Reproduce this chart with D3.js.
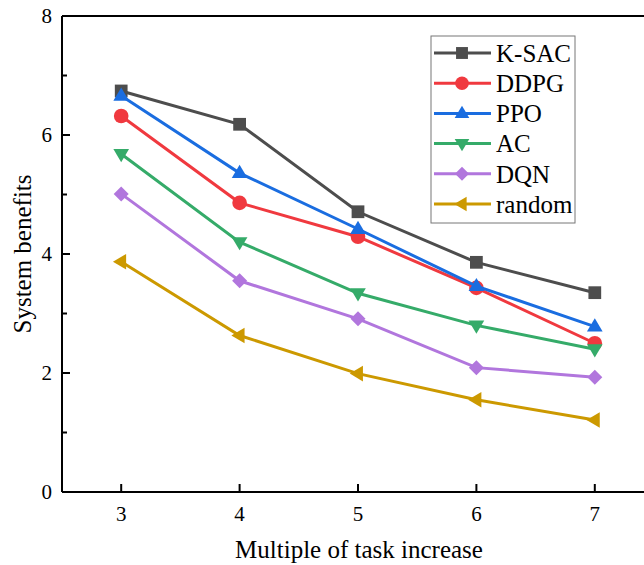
<!DOCTYPE html>
<html>
<head>
<meta charset="utf-8">
<script src="https://cdn.jsdelivr.net/npm/d3@7"></script>
<style>
  body { margin: 0; background: #fff; }
</style>
</head>
<body>
<div id="chart"></div>
<script>
// Data
const tasks = [3, 4, 5, 6, 7];
const seriesNames = ["K-SAC", "DDPG", "PPO", "AC", "DQN", "random"];
const ksac   = [6.74, 6.18, 4.71, 3.86, 3.35];
const ddpg   = [6.32, 4.86, 4.29, 3.43, 2.50];
const ppo    = [6.66, 5.36, 4.42, 3.46, 2.78];
const ac     = [5.68, 4.20, 3.34, 2.80, 2.40];
const dqn    = [5.01, 3.55, 2.91, 2.09, 1.93];
const random = [3.87, 2.63, 1.99, 1.55, 1.21];
const yTicks = [0, 2, 4, 6, 8];
const yMinor = [1, 3, 5, 7];

const colors = ["#4d4d4d", "#f0393f", "#1a6de0", "#35ab69", "#b176dd", "#cc9900"];
const symbols = ["square", "circle", "tri-up", "tri-down", "diamond", "tri-left"];
const allValues = [ksac, ddpg, ppo, ac, dqn, random];

const W = 644, H = 565;
const margin = { top: 16, right: -10, bottom: 73, left: 62 },
      width = W - margin.left - margin.right,
      height = H - margin.top - margin.bottom;

const svg = d3.select("#chart").append("svg")
    .attr("width", W).attr("height", H)
    .attr("font-family", "'Liberation Serif', 'Times New Roman', Times, serif");
const g = svg.append("g").attr("transform", `translate(${margin.left},${margin.top})`);

const x = d3.scaleLinear().domain([2.5, 7.5]).range([0, width]);
const y = d3.scaleLinear().domain([0, 8]).range([height, 0]);

// marker shapes, s = overall size in px
function markerPath(sym, s) {
  const r = s / 2;
  if (sym === "square") { const h = r * 0.85; return `M${-h},${-h}H${h}V${h}H${-h}Z`; }
  if (sym === "circle") return d3.symbol().type(d3.symbolCircle).size(Math.PI * r * r * 0.95)();
  if (sym === "diamond") return `M0,${-r}L${r},0L0,${r}L${-r},0Z`;
  const t = r * 1.1;
  if (sym === "tri-up") return `M0,${-t}L${t * 0.95},${t * 0.6}L${-t * 0.95},${t * 0.6}Z`;
  if (sym === "tri-down") return `M0,${t}L${t * 0.95},${-t * 0.6}L${-t * 0.95},${-t * 0.6}Z`;
  return `M${-t},0L${t * 0.6},${-t * 0.95}L${t * 0.6},${t * 0.95}Z`;
}

// axes frame
g.append("line").attr("x1", 0).attr("x2", width).attr("y1", height).attr("y2", height).attr("stroke", "#000").attr("stroke-width", 2);
g.append("line").attr("x1", 0).attr("x2", width).attr("y1", 0).attr("y2", 0).attr("stroke", "#000").attr("stroke-width", 2);
g.append("line").attr("x1", 0).attr("x2", 0).attr("y1", 0).attr("y2", height).attr("stroke", "#000").attr("stroke-width", 2);

// Y axis ticks (inward)
g.selectAll(".ytick").data(yTicks).join("line")
  .attr("x1", 0).attr("x2", 8).attr("y1", d => y(d)).attr("y2", d => y(d))
  .attr("stroke", "#000").attr("stroke-width", 2);
g.selectAll(".ytickm").data(yMinor).join("line")
  .attr("x1", 0).attr("x2", 5).attr("y1", d => y(d)).attr("y2", d => y(d))
  .attr("stroke", "#000").attr("stroke-width", 2);
g.selectAll(".ylab").data(yTicks).join("text")
  .attr("x", -10).attr("y", d => y(d)).attr("dy", "0.35em")
  .attr("text-anchor", "end").attr("font-size", 21).text(d => d);

// X axis ticks
g.selectAll(".xtick").data(tasks).join("line")
  .attr("x1", d => x(d)).attr("x2", d => x(d)).attr("y1", height).attr("y2", height - 8)
  .attr("stroke", "#000").attr("stroke-width", 2);
g.selectAll(".xlab").data(tasks).join("text")
  .attr("x", d => x(d)).attr("y", height + 29)
  .attr("text-anchor", "middle").attr("font-size", 21).text(d => d);

// axis titles
svg.append("text").attr("x", 359).attr("y", 558).attr("text-anchor", "middle")
  .attr("font-size", 25).text("Multiple of task increase");
svg.append("text").attr("transform", "translate(31,254) rotate(-90)").attr("text-anchor", "middle")
  .attr("font-size", 25).text("System benefits");

// lines and markers
const line = d3.line().x((d, i) => x(tasks[i])).y(d => y(d));
allValues.forEach((vals, k) => {
  g.append("path").datum(vals).attr("d", line)
    .attr("fill", "none").attr("stroke", colors[k]).attr("stroke-width", 3);
  g.selectAll(".m" + k).data(vals).join("path")
    .attr("transform", (d, i) => `translate(${x(tasks[i])},${y(d)})`)
    .attr("d", markerPath(symbols[k], 15))
    .attr("fill", colors[k]);
});

// legend
const leg = svg.append("g").attr("transform", "translate(431,36)");
leg.append("rect").attr("width", 144).attr("height", 187)
  .attr("fill", "#fff").attr("stroke", "#777").attr("stroke-width", 1);
seriesNames.forEach((name, k) => {
  const cy = 17 + k * 30.2;
  leg.append("line").attr("x1", 3).attr("x2", 60).attr("y1", cy).attr("y2", cy)
    .attr("stroke", colors[k]).attr("stroke-width", 3);
  leg.append("path").attr("transform", `translate(31,${cy})`)
    .attr("d", markerPath(symbols[k], 14)).attr("fill", colors[k]);
  leg.append("text").attr("x", 65).attr("y", cy).attr("dy", "0.35em")
    .attr("font-size", 25).text(name);
});
</script>
</body>
</html>
